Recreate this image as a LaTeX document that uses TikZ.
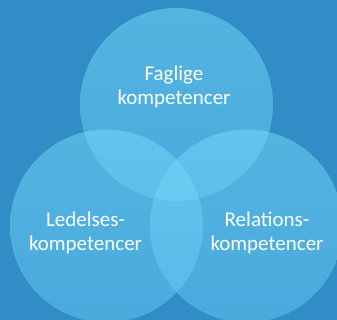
\documentclass[tikz,border=0pt]{standalone}
\usepackage{fontspec}
\setmainfont{Carlito}
\definecolor{bgblue}{RGB}{49,141,198}
\definecolor{circtop}{RGB}{118,220,250}
\definecolor{circbot}{RGB}{100,200,245}
\tikzset{
  venn/.style={top color=circtop, bottom color=circbot, fill opacity=0.5, draw=none},
  lbl/.style={text=white, align=center, font=\fontsize{21}{23.5}\selectfont, inner sep=0pt}
}
\begin{document}
\begin{tikzpicture}[x=1pt,y=-1pt]
\fill[bgblue] (0,0) rectangle (337,320);
\useasboundingbox (0,0) rectangle (337,320);
\begin{scope}
\clip (0,0) rectangle (337,320);
\shade[venn] (176.5,104.5) circle[radius=96.5];
\shade[venn] (106.5,226) circle[radius=96.5];
\shade[venn] (246.5,226) circle[radius=96.5];
\end{scope}
\node[lbl] (faglige) at (174,87) {Faglige\\kompetencer};
\node[lbl] (ledelses) at (85.5,233) {Ledelses-\\kompetencer};
\node[lbl] (relations) at (267,233) {Relations-\\kompetencer};
\end{tikzpicture}
\end{document}
